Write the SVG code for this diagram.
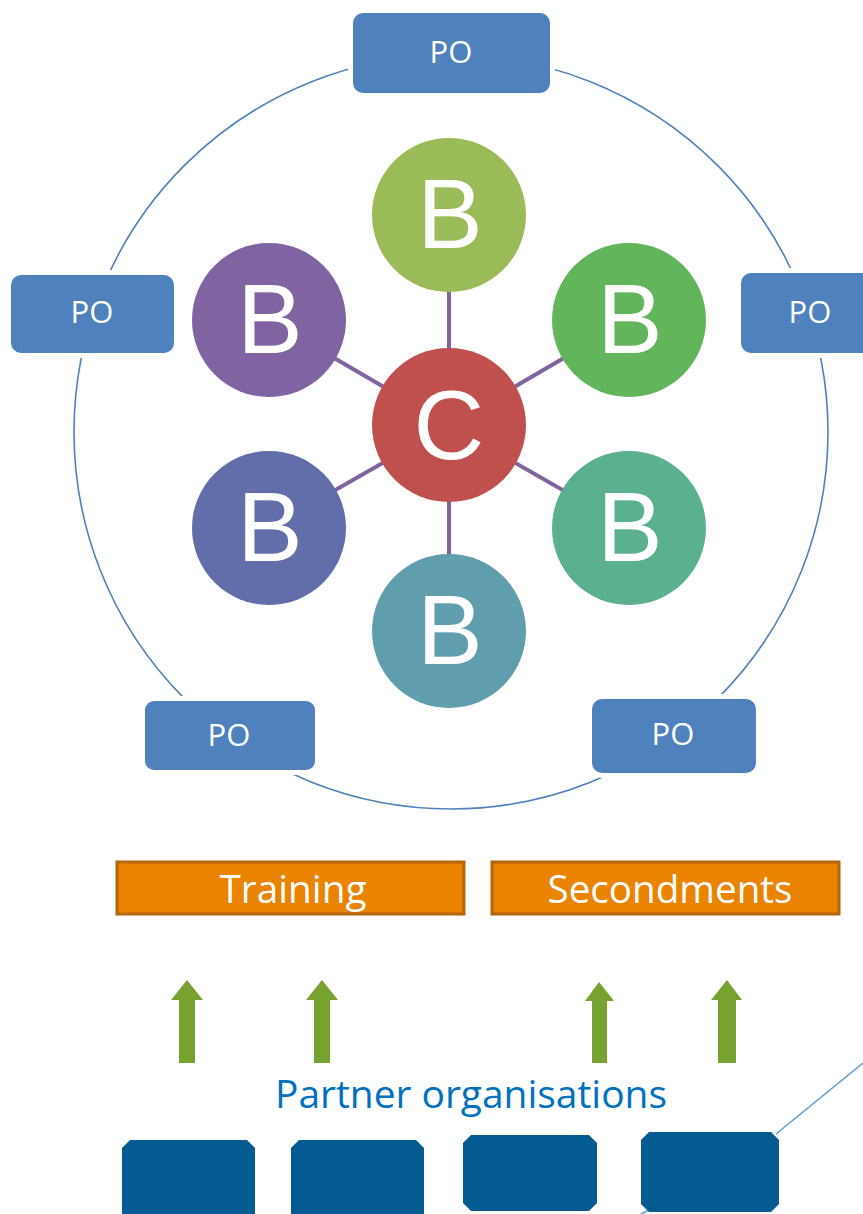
<svg xmlns="http://www.w3.org/2000/svg" width="863" height="1214" viewBox="0 0 863 1214">
<style>
.po rect{fill:#4F81BD;stroke:#fff;stroke-width:10;paint-order:stroke}
.po text{font-family:"Open Sans","DejaVu Sans",sans-serif;font-size:31px;fill:#fff;text-anchor:middle}
.b text{font-family:"Liberation Sans",Arial,sans-serif;font-size:98px;fill:#fff;text-anchor:middle}
.act rect{fill:#E98300;stroke:#B5650B;stroke-width:3}
.act text{font-family:"Open Sans","DejaVu Sans",sans-serif;font-size:38px;fill:#fff;text-anchor:middle}
.org path{fill:#035B91}
.spoke{stroke:#8064A2;stroke-width:4}
.arrow{fill:#78A22F}
</style>
<rect width="863" height="1214" fill="#fff"/>
<g id="ring">
<circle cx="451" cy="432" r="377" fill="none" stroke="#4F81BD" stroke-width="1.6"/>
</g>
<g id="connectors">
<line class="spoke" x1="449" y1="425" x2="449" y2="215"/>
<line class="spoke" x1="449" y1="425" x2="629" y2="320"/>
<line class="spoke" x1="449" y1="425" x2="269" y2="320"/>
<line class="spoke" x1="449" y1="425" x2="269" y2="528"/>
<line class="spoke" x1="449" y1="425" x2="629" y2="528"/>
<line class="spoke" x1="449" y1="425" x2="449" y2="631"/>
<line x1="776" y1="1134" x2="863" y2="1063" stroke="#5B9BD5" stroke-width="1.5"/>
<line x1="655" y1="1207" x2="641" y2="1214" stroke="#5B9BD5" stroke-width="1.5"/>
</g>
<g id="po-top" class="po"><rect x="353" y="13" width="197" height="80" rx="10"/><text x="451" y="63">PO</text></g>
<g id="po-left" class="po"><rect x="11" y="275" width="163" height="78" rx="10"/><text x="92" y="323">PO</text></g>
<g id="po-right" class="po"><rect x="741" y="273" width="135" height="80" rx="10"/><text x="810" y="323">PO</text></g>
<g id="po-bottom-left" class="po"><rect x="145" y="701" width="170" height="69" rx="9"/><text x="229" y="746">PO</text></g>
<g id="po-bottom-right" class="po"><rect x="592" y="699" width="164" height="74" rx="10"/><text x="673" y="745">PO</text></g>
<g id="b-top" class="b"><circle cx="449" cy="215" r="77" fill="#9BBB59"/><text x="450" y="248">B</text></g>
<g id="b-upper-right" class="b"><circle cx="629" cy="320" r="77" fill="#62B55B"/><text x="630" y="353">B</text></g>
<g id="b-upper-left" class="b"><circle cx="269" cy="320" r="77" fill="#8064A2"/><text x="270" y="353">B</text></g>
<g id="b-lower-left" class="b"><circle cx="269" cy="528" r="77" fill="#616EA9"/><text x="270" y="561">B</text></g>
<g id="b-lower-right" class="b"><circle cx="629" cy="528" r="77" fill="#5BB08F"/><text x="630" y="561">B</text></g>
<g id="b-bottom" class="b"><circle cx="449" cy="631" r="77" fill="#609EAE"/><text x="450" y="664">B</text></g>
<g id="c-center" class="b"><circle cx="449" cy="425" r="77" fill="#C0504D"/><text x="449" y="459">C</text></g>
<g id="training" class="act"><rect x="117" y="862" width="347" height="52"/><text x="293" y="903" textLength="147" lengthAdjust="spacingAndGlyphs">Training</text></g>
<g id="secondments" class="act"><rect x="492" y="862" width="347" height="52"/><text x="670" y="903" textLength="245" lengthAdjust="spacingAndGlyphs">Secondments</text></g>
<g id="arrows">
<path class="arrow" d="M187 980 L203 1000 L195 1000 L195 1063 L179 1063 L179 1000 L171 1000 Z"/>
<path class="arrow" d="M322 980 L338 1000 L330 1000 L330 1063 L314 1063 L314 1000 L306 1000 Z"/>
<path class="arrow" d="M599 982 L614 1001 L607 1001 L607 1063 L592 1063 L592 1001 L585 1001 Z"/>
<path class="arrow" d="M727 980 L742 1000 L736 1000 L736 1063 L718 1063 L718 1000 L711 1000 Z"/>
</g>
<g id="partner-label"><text x="471" y="1108" font-family="'Open Sans','DejaVu Sans',sans-serif" font-size="38" fill="#0070C0" text-anchor="middle" textLength="392" lengthAdjust="spacingAndGlyphs">Partner organisations</text></g>
<g id="org-1" class="org"><path d="M130 1140 H247 L255 1148 V1214 H122 V1148 Z"/></g>
<g id="org-2" class="org"><path d="M299 1140 H416 L424 1148 V1214 H291 V1148 Z"/></g>
<g id="org-3" class="org"><path d="M471 1135 H589 L597 1143 V1203 L589 1211 H471 L463 1203 V1143 Z"/></g>
<g id="org-4" class="org"><path d="M649 1132 H771 L779 1140 V1204 L771 1212 H649 L641 1204 V1140 Z"/></g>
</svg>
